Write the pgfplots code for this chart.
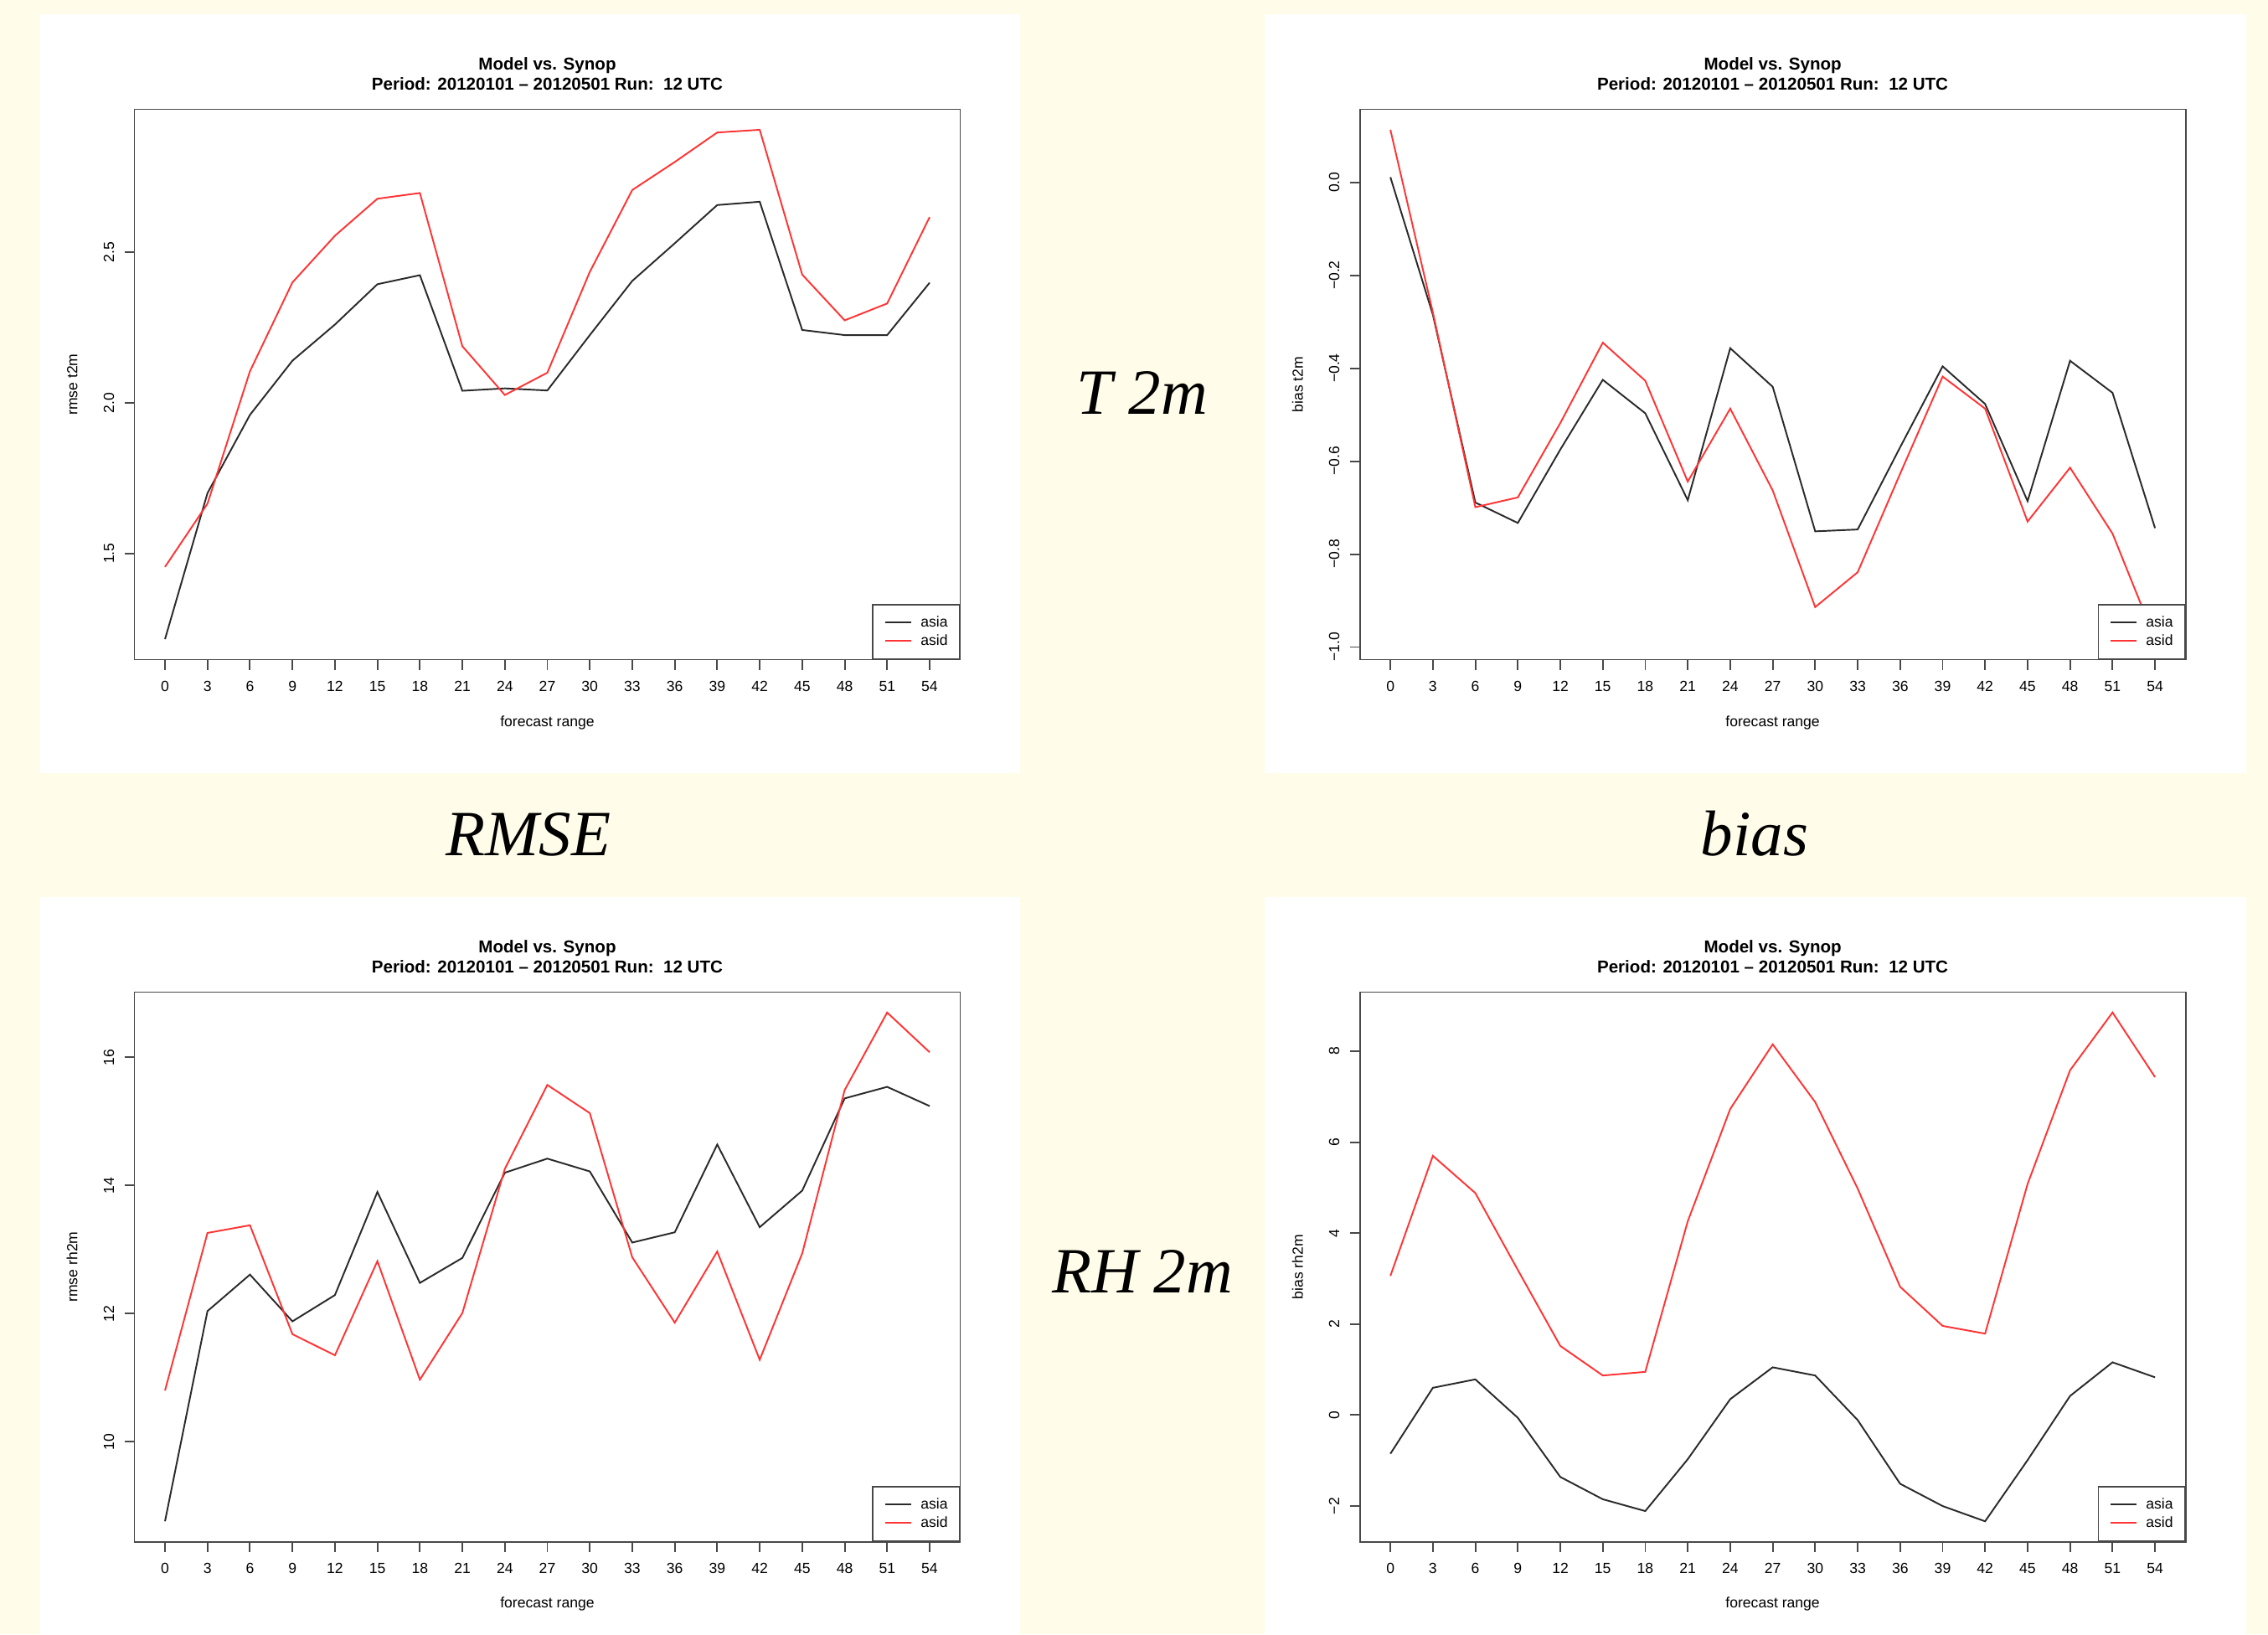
\documentclass[border=0pt]{standalone}
\usepackage{fontspec}
\setmainfont{Liberation Sans}
\newfontfamily\lserif{Liberation Serif}
\usepackage{pgfplots}
\usepackage{pgfplotstable}
\pgfplotsset{compat=1.18}

\definecolor{cream}{HTML}{FFFCE9}
\definecolor{asiacol}{HTML}{2A2A2A}
\definecolor{asidcol}{HTML}{FF3434}
\definecolor{framecol}{HTML}{484848}

% forecast range, asia, asid
\pgfplotstableread{
x  asia   asid
0  1.215  1.455
3  1.700  1.665
6  1.960  2.105
9  2.140  2.400
12 2.260  2.555
15 2.394  2.678
18 2.424  2.697
21 2.040  2.188
24 2.048  2.026
27 2.041  2.100
30 2.225  2.435
33 2.405  2.707
36 2.530  2.800
39 2.657  2.898
42 2.668  2.907
45 2.242  2.426
48 2.225  2.274
51 2.225  2.330
54 2.399  2.617
}\rmsetwo

\pgfplotstableread{
x  asia    asid
0   0.011   0.113
3  -0.285  -0.280
6  -0.689  -0.699
9  -0.733  -0.678
12 -0.575  -0.518
15 -0.425  -0.345
18 -0.497  -0.427
21 -0.684  -0.644
24 -0.357  -0.487
27 -0.440  -0.663
30 -0.751  -0.914
33 -0.747  -0.839
36 -0.570  -0.627
39 -0.396  -0.418
42 -0.477  -0.487
45 -0.686  -0.730
48 -0.384  -0.614
51 -0.453  -0.756
54 -0.744  -0.983
}\biastwo

\pgfplotstableread{
x  asia   asid
0   8.76  10.80
3  12.04  13.26
6  12.61  13.38
9  11.88  11.68
12 12.29  11.35
15 13.90  12.82
18 12.48  10.97
21 12.87  12.01
24 14.20  14.26
27 14.42  15.57
30 14.22  15.13
33 13.11  12.88
36 13.27  11.86
39 14.64  12.97
42 13.35  11.28
45 13.92  12.94
48 15.36  15.49
51 15.54  16.70
54 15.24  16.08
}\rmserh

\pgfplotstableread{
x  asia    asid
0  -0.850  3.06
3   0.600  5.70
6   0.785  4.88
9  -0.060  3.19
12 -1.360  1.52
15 -1.850  0.87
18 -2.110  0.95
21 -0.970  4.26
24  0.350  6.73
27  1.050  8.15
30  0.870  6.88
33 -0.110  4.98
36 -1.510  2.82
39 -2.000  1.96
42 -2.335  1.79
45 -0.990  5.08
48  0.420  7.58
51  1.160  8.85
54  0.830  7.43
}\biasrh

\newcommand{\rfont}{\fontsize{10}{12}\selectfont}
\newcommand{\titlefont}{\fontsize{11.7}{14}\selectfont\bfseries}
\newcommand{\bigfont}{\lserif\itshape\fontsize{43.8}{50}\selectfont}

\newcommand{\rtitle}{%
  \node[anchor=base, font=\titlefont, yshift=0.948cm] at (rel axis cs:0.5,1) {Model vs. Synop};
  \node[anchor=base, font=\titlefont, yshift=0.454cm] at (rel axis cs:0.5,1) {Period: 20120101 – 20120501 Run:\ \ 12 UTC};
}

\pgfplotsset{
  rpanel/.style={
    scale only axis, width=19.72cm,
    xmin=-2.16, xmax=56.16,
    xtick={0,3,...,54},
    xtick pos=lower, ytick pos=lower,
    tick align=outside, major tick length=0.24cm,
    axis line style={draw=framecol, line width=1.1pt},
    every tick/.style={draw=framecol, line width=1.1pt},
    tick label style={font=\rfont},
    /pgf/number format/assume math mode=true,
    xticklabel style={anchor=base, yshift=-0.516cm},
    yticklabel style={rotate=90, anchor=base, yshift=0.25cm},
    label style={font=\rfont},
    xlabel={forecast range},
    xlabel style={at={(axis description cs:0.5,-0.121)}, anchor=base},
    ylabel style={at={(axis description cs:-0.069,0.5)}, anchor=base},
    clip=false,
    legend cell align=left,
    legend image code/.code={\draw[##1] (0cm,0cm) -- (0.62cm,0cm);},
    legend style={at={(1,0)}, anchor=south east, draw=framecol, line width=1.1pt,
      fill=white, inner xsep=0.28cm, inner ysep=0.27cm, row sep=0.14cm,
      column sep=0.2cm, nodes={inner sep=0pt}, font=\rfont},
  },
  asia/.style={asiacol, line width=1.1pt},
  asid/.style={asidcol, line width=1.1pt},
}

\begin{document}
\begin{tikzpicture}
\fill[cream] (0,0) rectangle (54.16cm,-39.02cm);
\fill[white] (0.95cm,-0.334cm) rectangle (24.36cm,-18.46cm);
\fill[white] (30.2cm,-0.334cm) rectangle (53.64cm,-18.46cm);
\fill[white] (0.95cm,-21.42cm) rectangle (24.36cm,-39.02cm);
\fill[white] (30.2cm,-21.42cm) rectangle (53.64cm,-39.02cm);

\node[anchor=base, font=\bigfont] at (27.28cm,-9.886cm) {T 2m};
\node[anchor=base, font=\bigfont] at (12.62cm,-20.434cm) {RMSE};
\node[anchor=base, font=\bigfont] at (41.9cm,-20.434cm) {bias};
\node[anchor=base, font=\bigfont] at (27.28cm,-30.866cm) {RH 2m};

% T2m RMSE
\begin{axis}[rpanel, height=13.14cm, at={(3.21cm,-2.61cm)}, anchor=north west,
    ymin=1.147, ymax=2.975, ytick={1.5,2.0,2.5}, yticklabels={1.5,2.0,2.5},
    ylabel={rmse t2m}]
\addplot[asia] table[x=x, y=asia] {\rmsetwo};
\addlegendentry{asia\hspace{-0.12cm}}
\addplot[asid] table[x=x, y=asid] {\rmsetwo};
\addlegendentry{asid\hspace{-0.12cm}}
\rtitle
\end{axis}

% T2m bias
\begin{axis}[rpanel, height=13.14cm, at={(32.472cm,-2.61cm)}, anchor=north west,
    ymin=-1.027, ymax=0.157, ytick={-1,-0.8,-0.6,-0.4,-0.2,0},
    yticklabels={−1.0,−0.8,−0.6,−0.4,−0.2,0.0},
    ylabel={bias t2m}]
\addplot[asia] table[x=x, y=asia] {\biastwo};
\addlegendentry{asia\hspace{-0.12cm}}
\addplot[asid] table[x=x, y=asid] {\biastwo};
\addlegendentry{asid\hspace{-0.12cm}}
\rtitle
\end{axis}

% RH2m RMSE
\begin{axis}[rpanel, height=13.12cm, at={(3.21cm,-23.69cm)}, anchor=north west,
    ymin=8.442, ymax=17.018, ytick={10,12,14,16}, yticklabels={10,12,14,16},
    ylabel={rmse rh2m}]
\addplot[asia] table[x=x, y=asia] {\rmserh};
\addlegendentry{asia\hspace{-0.12cm}}
\addplot[asid] table[x=x, y=asid] {\rmserh};
\addlegendentry{asid\hspace{-0.12cm}}
\rtitle
\end{axis}

% RH2m bias
\begin{axis}[rpanel, height=13.12cm, at={(32.472cm,-23.69cm)}, anchor=north west,
    ymin=-2.782, ymax=9.297, ytick={-2,0,2,4,6,8}, yticklabels={−2,0,2,4,6,8},
    ylabel={bias rh2m}]
\addplot[asia] table[x=x, y=asia] {\biasrh};
\addlegendentry{asia\hspace{-0.12cm}}
\addplot[asid] table[x=x, y=asid] {\biasrh};
\addlegendentry{asid\hspace{-0.12cm}}
\rtitle
\end{axis}
\end{tikzpicture}
\end{document}
